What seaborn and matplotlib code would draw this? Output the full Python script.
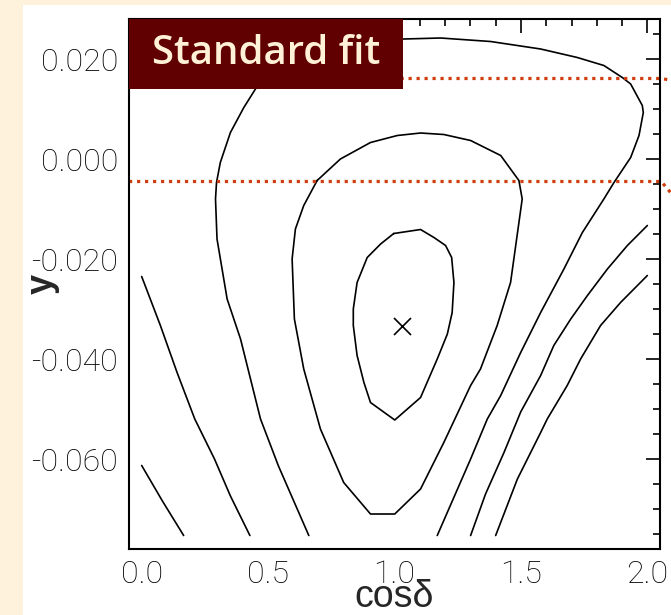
import matplotlib
matplotlib.use('Agg')
import matplotlib.pyplot as plt
from matplotlib.patches import Rectangle
from matplotlib.ticker import MultipleLocator
import seaborn as sns

# contour lines (x = cos delta, y = y)
inner_x = [0.997, 1.103, 1.156, 1.202, 1.226, 1.235, 1.228, 1.209, 1.169, 1.103,
           1.001, 0.905, 0.879, 0.852, 0.837, 0.837, 0.852, 0.892, 0.945, 0.997]
inner_y = [-0.0149, -0.0141, -0.0157, -0.0173, -0.0197, -0.0247, -0.0307, -0.0350,
           -0.0400, -0.0477, -0.0522, -0.0487, -0.0447, -0.0393, -0.0333, -0.0300,
           -0.0247, -0.0197, -0.0170, -0.0149]

mid_x = [0.694, 0.786, 0.905, 1.011, 1.103, 1.195, 1.301, 1.420, 1.492, 1.505,
         1.459, 1.406, 1.340, 1.301, 1.195, 1.103, 1.001, 0.905, 0.799, 0.707,
         0.641, 0.604, 0.595, 0.608, 0.641, 0.694]
mid_y = [-0.0043, 0.0000, 0.0033, 0.0047, 0.0052, 0.0049, 0.0037, 0.0007, -0.0043,
         -0.0080, -0.0247, -0.0333, -0.0420, -0.0453, -0.0567, -0.0660, -0.0710,
         -0.0710, -0.0647, -0.0540, -0.0420, -0.0320, -0.0200, -0.0140, -0.0093,
         -0.0043]

outer_x = [0.661, 0.541, 0.470, 0.391, 0.338, 0.298, 0.292, 0.296, 0.311, 0.351,
           0.404, 0.450, 0.509, 0.608, 0.747, 0.885, 1.037, 1.182, 1.380, 1.578,
           1.723, 1.828, 1.901, 1.934, 1.980, 1.984, 1.967, 1.934, 1.868, 1.828,
           1.743, 1.670, 1.578, 1.499, 1.420, 1.367, 1.301, 1.169]
outer_y = [-0.0753, -0.0614, -0.0520, -0.0360, -0.0280, -0.0160, -0.0080, -0.0047,
           -0.0007, 0.0053, 0.0103, 0.0140, 0.0176, 0.0206, 0.0228, 0.0238, 0.0240,
           0.0242, 0.0235, 0.0220, 0.0203, 0.0187, 0.0163, 0.0150, 0.0107, 0.0093,
           0.0047, 0.0003, -0.0047, -0.0080, -0.0147, -0.0220, -0.0307, -0.0387,
           -0.0473, -0.0520, -0.0600, -0.0753]

left4_x = [0.000, 0.034, 0.074, 0.140, 0.210, 0.288, 0.351, 0.428]
left4_y = [-0.0235, -0.0280, -0.0333, -0.0427, -0.0520, -0.0600, -0.0674, -0.0753]
left5_x = [0.000, 0.082, 0.166]
left5_y = [-0.0613, -0.0684, -0.0753]

right4_x = [2.000, 1.921, 1.842, 1.763, 1.697, 1.630, 1.578, 1.499, 1.433, 1.360, 1.301]
right4_y = [-0.0133, -0.0173, -0.0220, -0.0273, -0.0320, -0.0373, -0.0433, -0.0506,
            -0.0587, -0.0670, -0.0753]
right5_x = [2.000, 1.894, 1.815, 1.736, 1.683, 1.604, 1.578, 1.486, 1.400]
right5_y = [-0.0233, -0.0287, -0.0333, -0.0400, -0.0453, -0.0520, -0.0547, -0.0640,
            -0.0753]

best_x = [1.028]
best_y = [-0.0333]

# dotted band limits (they run on past the frame)
band_x = [-0.05, 2.055, 2.10]
band_hi = [0.0161, 0.0161, 0.0157]
band_lo = [-0.0045, -0.0045, -0.0072]

x_ticks = [0.0, 0.5, 1.0, 1.5, 2.0]
x_labels = ['0.0', '0.5', '1.0', '1.5', '2.0']
y_ticks = [0.020, 0.000, -0.020, -0.040, -0.060]
y_labels = ['0.020', '0.000', '-0.020', '-0.040', '-0.060']

sns.set_style('white')
plt.rcParams['font.family'] = ['Roboto', 'DejaVu Sans']

fig = plt.figure(figsize=(6.71, 6.15), dpi=100, facecolor='#FFF2DC')
fig.patches.append(Rectangle((0.035, 0.0), 0.965, 0.992, transform=fig.transFigure,
                             facecolor='white', edgecolor='none', zorder=-10))
ax = fig.add_axes([0.1923, 0.1073, 0.7913, 0.8618])
ax.set_facecolor('white')

contours = [(inner_x, inner_y), (mid_x, mid_y), (outer_x, outer_y),
            (left4_x, left4_y), (left5_x, left5_y),
            (right4_x, right4_y), (right5_x, right5_y)]
for cx, cy in contours:
    sns.lineplot(x=cx, y=cy, sort=False, estimator=None, color='black',
                 linewidth=1.2, ax=ax)

sns.scatterplot(x=best_x, y=best_y, marker='x', s=150, color='black',
                linewidth=1.2, ax=ax, zorder=5)

for by in (band_hi, band_lo):
    sns.lineplot(x=band_x, y=by, sort=False, estimator=None, color='#CF3E0C',
                 linewidth=2.3, linestyle=(0, (1, 1.5)), ax=ax)
for ln in ax.lines[-2:]:
    ln.set_clip_on(False)
    ln.set_dash_capstyle('butt')

ax.set_xlim(-0.05, 2.05)
ax.set_ylim(-0.078, 0.028)

ax.set_xticks(x_ticks)
ax.set_xticklabels(x_labels)
ax.set_yticks(y_ticks)
ax.set_yticklabels(y_labels)
ax.xaxis.set_minor_locator(MultipleLocator(0.1))
ax.yaxis.set_minor_locator(MultipleLocator(0.005))
ax.tick_params(which='both', direction='in', top=True, right=True, color='black',
               width=1.2)
ax.tick_params(which='major', length=10, labelsize=23, pad=8, labelcolor='black')
ax.tick_params(which='minor', length=5)
for lab in ax.get_xticklabels() + ax.get_yticklabels():
    lab.set_fontweight('light')
for sp in ax.spines.values():
    sp.set_linewidth(1.5)
    sp.set_color('black')

ax.set_xlabel('cos\u03b4', fontsize=27, family=['Liberation Sans', 'DejaVu Sans'],
              labelpad=-7)
ax.set_ylabel('y', fontsize=26, fontweight='bold',
              family=['Liberation Sans', 'DejaVu Sans'])
ax.yaxis.set_label_coords(-0.13, 0.50)

# title box in the top-left corner
ax.add_patch(Rectangle((0.0, 0.868), 0.516, 0.132, transform=ax.transAxes,
                       facecolor='#600000', edgecolor='none', zorder=10,
                       clip_on=False))
ax.text(0.258, 0.934, 'Standard fit', transform=ax.transAxes, ha='center',
        va='center', fontsize=29, color='#FFF0D8', fontweight='semibold',
        family=['Open Sans', 'DejaVu Sans'], zorder=11)

fig.savefig('out.png', dpi=100, facecolor=fig.get_facecolor())
